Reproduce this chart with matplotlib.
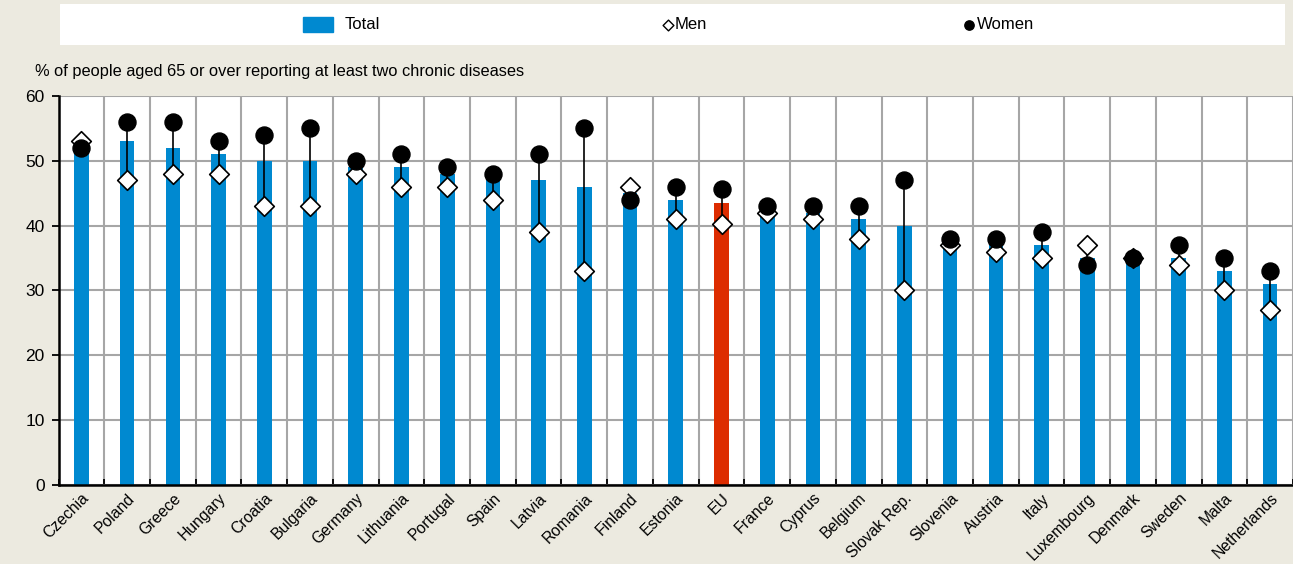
import numpy as np
import matplotlib.pyplot as plt
from matplotlib.patches import Rectangle

# Data
countries = ["Czechia", "Poland", "Greece", "Hungary", "Croatia", "Bulgaria",
             "Germany", "Lithuania", "Portugal", "Spain", "Latvia", "Romania",
             "Finland", "Estonia", "EU", "France", "Cyprus", "Belgium",
             "Slovak Rep.", "Slovenia", "Austria", "Italy", "Luxembourg",
             "Denmark", "Sweden", "Malta", "Netherlands"]
total = [52, 53, 52, 51, 50, 50, 49, 49, 48, 47, 47, 46, 45, 44, 43.5,
         42, 42, 41, 40, 37, 37, 37, 35, 35, 35, 33, 31]
men = [53, 47, 48, 48, 43, 43, 48, 46, 46, 44, 39, 33, 46, 41, 40.3,
       42, 41, 38, 30, 37, 36, 35, 37, 35, 34, 30, 27]
women = [52, 56, 56, 53, 54, 55, 50, 51, 49, 48, 51, 55, 44, 46, 45.7,
         43, 43, 43, 47, 38, 38, 39, 34, 35, 37, 35, 33]

BG = "#ECEAE0"
BLUE = "#0089D0"
RED = "#DD2C00"
GRID = "#A6A6A6"

plt.rcParams['font.family'] = ['Liberation Sans', 'DejaVu Sans']

fig = plt.figure(figsize=(12.93, 5.64), dpi=100, facecolor=BG)
ax = fig.add_axes([0.0453, 0.140, 0.9547, 0.690])
ax.set_facecolor("white")

x = np.arange(len(countries))
colors = [RED if c == "EU" else BLUE for c in countries]
ax.bar(x, total, width=0.32, color=colors, zorder=2)

# men-women connectors
ax.vlines(x, men, women, color="black", linewidth=1.2, zorder=3)
ax.scatter(x, men, marker="D", s=100, facecolor="white", edgecolor="black",
           linewidth=1.2, zorder=4)
ax.scatter(x, women, marker="o", s=150, color="black", zorder=5)

ax.set_xlim(-0.5, len(countries) - 0.5)
ax.set_ylim(0, 60)
ax.set_yticks(range(0, 61, 10))
ax.set_xticks(x)
ax.set_xticklabels(countries, rotation=45, ha="right", rotation_mode="anchor",
                   fontsize=11.3)
ax.set_xticks(np.arange(-0.5, len(countries), 1), minor=True)
ax.tick_params(axis="x", which="major", length=0, pad=4)
ax.tick_params(axis="x", which="minor", direction="in", length=4, width=1.3, color="black")
ax.tick_params(axis="y", length=5, width=1.3, labelsize=12.5, pad=5)

ax.grid(axis="y", which="major", color=GRID, linewidth=1.5, zorder=0)
ax.grid(axis="x", which="minor", color=GRID, linewidth=1.5, zorder=0)
ax.set_axisbelow(True)
for side in ["top", "right"]:
    ax.spines[side].set_visible(False)
for side in ["left", "bottom"]:
    ax.spines[side].set_linewidth(1.8)
    ax.spines[side].set_zorder(6)

fig.text(0.027, 0.873, "% of people aged 65 or over reporting at least two chronic diseases",
         fontsize=11.75, va="center", ha="left")

# legend strip
lg = fig.add_axes([60 / 1293, 1 - 45 / 564, 1225 / 1293, 41 / 564])
lg.set_xlim(0, 1225)
lg.set_ylim(0, 41)
lg.axis("off")
lg.add_patch(Rectangle((0, 0), 1225, 41, color="white", zorder=0))
lg.add_patch(Rectangle((243, 13), 30, 15, color=BLUE))
lg.text(285, 20.5, "Total", fontsize=12, va="center")
lg.scatter([608], [20.5], marker="D", s=30, facecolor="white", edgecolor="black", linewidth=1)
lg.text(615, 20.5, "Men", fontsize=12, va="center")
lg.scatter([909], [20.5], marker="o", s=45, color="black")
lg.text(917, 20.5, "Women", fontsize=12, va="center")

fig.savefig("out.png", dpi=100, facecolor=BG)
